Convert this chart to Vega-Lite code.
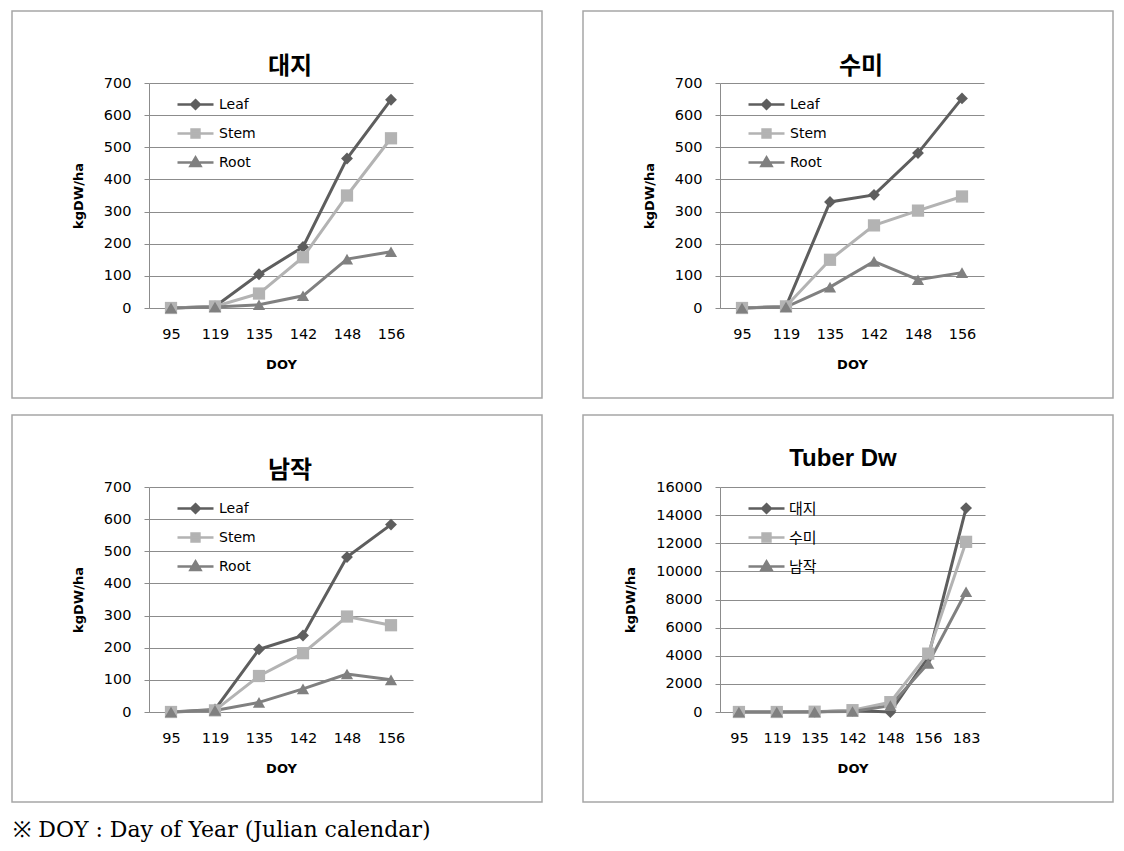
{
  "$schema": "https://vega.github.io/schema/vega-lite/v6.json",
  "background": "white",
  "padding": {"left": 11, "top": 10, "right": 0, "bottom": 4},
  "title": {"text": "※ DOY : Day of Year (Julian calendar)", "orient": "bottom", "anchor": "start", "font": "DejaVu Serif", "fontSize": 22, "fontWeight": "normal", "color": "#000", "offset": 17, "dx": 2},
  "config": {
    "view": {"stroke": "#a6a6a6", "strokeWidth": 1.5},
    "axis": {"labelFont": "DejaVu Sans", "labelFontSize": 14.5, "labelColor": "#000", "titleFont": "DejaVu Sans", "titleFontSize": 13, "titleFontWeight": "bold", "titleColor": "#000", "gridColor": "#8c8c8c", "gridOpacity": 1, "gridWidth": 1, "domainColor": "#8c8c8c", "domainWidth": 1, "tickColor": "#8c8c8c"},
    "legend": {"orient": "none", "legendX": 164, "legendY": 74, "symbolSize": 1296, "symbolStrokeWidth": 2.5, "symbolOpacity": 1, "labelFont": "DejaVu Sans", "labelFontSize": 14, "labelColor": "#000", "labelOffset": 4, "rowPadding": 0, "padding": 0},
    "title": {"color": "#000", "anchor": "middle"}
  },
  "datasets": {
    "d1": [
      {"DOY": 95, "part": "Leaf", "kgDW": 0}, {"DOY": 119, "part": "Leaf", "kgDW": 5}, {"DOY": 135, "part": "Leaf", "kgDW": 105}, {"DOY": 142, "part": "Leaf", "kgDW": 190}, {"DOY": 148, "part": "Leaf", "kgDW": 465}, {"DOY": 156, "part": "Leaf", "kgDW": 648},
      {"DOY": 95, "part": "Stem", "kgDW": 0}, {"DOY": 119, "part": "Stem", "kgDW": 5}, {"DOY": 135, "part": "Stem", "kgDW": 45}, {"DOY": 142, "part": "Stem", "kgDW": 158}, {"DOY": 148, "part": "Stem", "kgDW": 350}, {"DOY": 156, "part": "Stem", "kgDW": 528},
      {"DOY": 95, "part": "Root", "kgDW": 0}, {"DOY": 119, "part": "Root", "kgDW": 3}, {"DOY": 135, "part": "Root", "kgDW": 10}, {"DOY": 142, "part": "Root", "kgDW": 38}, {"DOY": 148, "part": "Root", "kgDW": 152}, {"DOY": 156, "part": "Root", "kgDW": 175}
    ],
    "d2": [
      {"DOY": 95, "part": "Leaf", "kgDW": 0}, {"DOY": 119, "part": "Leaf", "kgDW": 5}, {"DOY": 135, "part": "Leaf", "kgDW": 330}, {"DOY": 142, "part": "Leaf", "kgDW": 352}, {"DOY": 148, "part": "Leaf", "kgDW": 482}, {"DOY": 156, "part": "Leaf", "kgDW": 652},
      {"DOY": 95, "part": "Stem", "kgDW": 0}, {"DOY": 119, "part": "Stem", "kgDW": 5}, {"DOY": 135, "part": "Stem", "kgDW": 150}, {"DOY": 142, "part": "Stem", "kgDW": 257}, {"DOY": 148, "part": "Stem", "kgDW": 303}, {"DOY": 156, "part": "Stem", "kgDW": 347},
      {"DOY": 95, "part": "Root", "kgDW": 0}, {"DOY": 119, "part": "Root", "kgDW": 3}, {"DOY": 135, "part": "Root", "kgDW": 65}, {"DOY": 142, "part": "Root", "kgDW": 145}, {"DOY": 148, "part": "Root", "kgDW": 88}, {"DOY": 156, "part": "Root", "kgDW": 110}
    ],
    "d3": [
      {"DOY": 95, "part": "Leaf", "kgDW": 0}, {"DOY": 119, "part": "Leaf", "kgDW": 8}, {"DOY": 135, "part": "Leaf", "kgDW": 195}, {"DOY": 142, "part": "Leaf", "kgDW": 238}, {"DOY": 148, "part": "Leaf", "kgDW": 482}, {"DOY": 156, "part": "Leaf", "kgDW": 583},
      {"DOY": 95, "part": "Stem", "kgDW": 0}, {"DOY": 119, "part": "Stem", "kgDW": 5}, {"DOY": 135, "part": "Stem", "kgDW": 112}, {"DOY": 142, "part": "Stem", "kgDW": 183}, {"DOY": 148, "part": "Stem", "kgDW": 297}, {"DOY": 156, "part": "Stem", "kgDW": 270},
      {"DOY": 95, "part": "Root", "kgDW": 0}, {"DOY": 119, "part": "Root", "kgDW": 5}, {"DOY": 135, "part": "Root", "kgDW": 30}, {"DOY": 142, "part": "Root", "kgDW": 72}, {"DOY": 148, "part": "Root", "kgDW": 118}, {"DOY": 156, "part": "Root", "kgDW": 100}
    ],
    "d4": [
      {"DOY": 95, "part": "대지", "kgDW": 0}, {"DOY": 119, "part": "대지", "kgDW": 0}, {"DOY": 135, "part": "대지", "kgDW": 0}, {"DOY": 142, "part": "대지", "kgDW": 100}, {"DOY": 148, "part": "대지", "kgDW": 0}, {"DOY": 156, "part": "대지", "kgDW": 3900}, {"DOY": 183, "part": "대지", "kgDW": 14500},
      {"DOY": 95, "part": "수미", "kgDW": 0}, {"DOY": 119, "part": "수미", "kgDW": 0}, {"DOY": 135, "part": "수미", "kgDW": 20}, {"DOY": 142, "part": "수미", "kgDW": 130}, {"DOY": 148, "part": "수미", "kgDW": 700}, {"DOY": 156, "part": "수미", "kgDW": 4150}, {"DOY": 183, "part": "수미", "kgDW": 12100},
      {"DOY": 95, "part": "남작", "kgDW": 0}, {"DOY": 119, "part": "남작", "kgDW": 0}, {"DOY": 135, "part": "남작", "kgDW": 10}, {"DOY": 142, "part": "남작", "kgDW": 40}, {"DOY": 148, "part": "남작", "kgDW": 450}, {"DOY": 156, "part": "남작", "kgDW": 3450}, {"DOY": 183, "part": "남작", "kgDW": 8550}
    ]
  },
  "columns": 2,
  "spacing": {"row": 15, "column": 39},
  "resolve": {"scale": {"x": "independent", "y": "independent", "color": "independent"}},
  "concat": [
    {
      "width": 530, "height": 387,
      "title": {"text": "대지", "font": "Noto Sans CJK KR", "fontSize": 24, "fontWeight": "bold", "baseline": "middle", "offset": -80, "dx": 13},
      "data": {"name": "d1"},
      "encoding": {
        "x": {"field": "DOY", "type": "ordinal", "scale": {"type": "point", "range": [137, 401], "padding": 0.5}, "axis": {"title": "DOY", "offset": -90, "labelAngle": 0, "ticks": false, "tickSize": 0, "labelPadding": 19, "titlePadding": 18}},
        "y": {"field": "kgDW", "type": "quantitative", "scale": {"domain": [0, 700], "range": [297, 72], "nice": false}, "axis": {"title": "kgDW/ha", "offset": -137, "values": [0, 100, 200, 300, 400, 500, 600, 700], "tickSize": 5, "labelPadding": 13, "titlePadding": 18, "grid": true}}
      },
      "layer": [
        {"mark": {"type": "line", "strokeWidth": 3}, "encoding": {"color": {"field": "part", "type": "nominal", "sort": ["Leaf", "Stem", "Root"], "scale": {"domain": ["Leaf", "Stem", "Root"], "range": ["#5e5e5e", "#b3b3b3", "#808080"]},
          "legend": {"title": null,
            "symbolType": {"expr": "datum.value === 'Leaf' ? 'M-1,0H1M0,-0.24L0.24,0L0,0.24L-0.24,0Z' : datum.value === 'Stem' ? 'M-1,0H1M-0.22,-0.22H0.22V0.22H-0.22Z' : 'M-1,0H1M0,-0.28L0.28,0.2H-0.28Z'"},
            "symbolFillColor": {"expr": "datum.value === 'Leaf' ? '#5e5e5e' : datum.value === 'Stem' ? '#b3b3b3' : '#808080'"}}}}},
        {"transform": [{"filter": "datum.part === 'Leaf'"}], "mark": {"type": "point", "filled": true, "opacity": 1, "size": 140, "shape": "diamond", "color": "#5e5e5e"}},
        {"transform": [{"filter": "datum.part === 'Stem'"}], "mark": {"type": "point", "filled": true, "opacity": 1, "size": 150, "shape": "square", "color": "#b3b3b3"}},
        {"transform": [{"filter": "datum.part === 'Root'"}], "mark": {"type": "point", "filled": true, "opacity": 1, "size": 150, "shape": "triangle-up", "color": "#808080"}}
      ]
    },
    {
      "width": 530, "height": 387,
      "title": {"text": "수미", "font": "Noto Sans CJK KR", "fontSize": 24, "fontWeight": "bold", "baseline": "middle", "offset": -80, "dx": 13},
      "data": {"name": "d2"},
      "encoding": {
        "x": {"field": "DOY", "type": "ordinal", "scale": {"type": "point", "range": [137, 401], "padding": 0.5}, "axis": {"title": "DOY", "offset": -90, "labelAngle": 0, "ticks": false, "tickSize": 0, "labelPadding": 19, "titlePadding": 18}},
        "y": {"field": "kgDW", "type": "quantitative", "scale": {"domain": [0, 700], "range": [297, 72], "nice": false}, "axis": {"title": "kgDW/ha", "offset": -137, "values": [0, 100, 200, 300, 400, 500, 600, 700], "tickSize": 5, "labelPadding": 13, "titlePadding": 18, "grid": true}}
      },
      "layer": [
        {"mark": {"type": "line", "strokeWidth": 3}, "encoding": {"color": {"field": "part", "type": "nominal", "sort": ["Leaf", "Stem", "Root"], "scale": {"domain": ["Leaf", "Stem", "Root"], "range": ["#5e5e5e", "#b3b3b3", "#808080"]},
          "legend": {"title": null,
            "symbolType": {"expr": "datum.value === 'Leaf' ? 'M-1,0H1M0,-0.24L0.24,0L0,0.24L-0.24,0Z' : datum.value === 'Stem' ? 'M-1,0H1M-0.22,-0.22H0.22V0.22H-0.22Z' : 'M-1,0H1M0,-0.28L0.28,0.2H-0.28Z'"},
            "symbolFillColor": {"expr": "datum.value === 'Leaf' ? '#5e5e5e' : datum.value === 'Stem' ? '#b3b3b3' : '#808080'"}}}}},
        {"transform": [{"filter": "datum.part === 'Leaf'"}], "mark": {"type": "point", "filled": true, "opacity": 1, "size": 140, "shape": "diamond", "color": "#5e5e5e"}},
        {"transform": [{"filter": "datum.part === 'Stem'"}], "mark": {"type": "point", "filled": true, "opacity": 1, "size": 150, "shape": "square", "color": "#b3b3b3"}},
        {"transform": [{"filter": "datum.part === 'Root'"}], "mark": {"type": "point", "filled": true, "opacity": 1, "size": 150, "shape": "triangle-up", "color": "#808080"}}
      ]
    },
    {
      "width": 530, "height": 387,
      "title": {"text": "남작", "font": "Noto Sans CJK KR", "fontSize": 24, "fontWeight": "bold", "baseline": "middle", "offset": -80, "dx": 13},
      "data": {"name": "d3"},
      "encoding": {
        "x": {"field": "DOY", "type": "ordinal", "scale": {"type": "point", "range": [137, 401], "padding": 0.5}, "axis": {"title": "DOY", "offset": -90, "labelAngle": 0, "ticks": false, "tickSize": 0, "labelPadding": 19, "titlePadding": 18}},
        "y": {"field": "kgDW", "type": "quantitative", "scale": {"domain": [0, 700], "range": [297, 72], "nice": false}, "axis": {"title": "kgDW/ha", "offset": -137, "values": [0, 100, 200, 300, 400, 500, 600, 700], "tickSize": 5, "labelPadding": 13, "titlePadding": 18, "grid": true}}
      },
      "layer": [
        {"mark": {"type": "line", "strokeWidth": 3}, "encoding": {"color": {"field": "part", "type": "nominal", "sort": ["Leaf", "Stem", "Root"], "scale": {"domain": ["Leaf", "Stem", "Root"], "range": ["#5e5e5e", "#b3b3b3", "#808080"]},
          "legend": {"title": null,
            "symbolType": {"expr": "datum.value === 'Leaf' ? 'M-1,0H1M0,-0.24L0.24,0L0,0.24L-0.24,0Z' : datum.value === 'Stem' ? 'M-1,0H1M-0.22,-0.22H0.22V0.22H-0.22Z' : 'M-1,0H1M0,-0.28L0.28,0.2H-0.28Z'"},
            "symbolFillColor": {"expr": "datum.value === 'Leaf' ? '#5e5e5e' : datum.value === 'Stem' ? '#b3b3b3' : '#808080'"}}}}},
        {"transform": [{"filter": "datum.part === 'Leaf'"}], "mark": {"type": "point", "filled": true, "opacity": 1, "size": 140, "shape": "diamond", "color": "#5e5e5e"}},
        {"transform": [{"filter": "datum.part === 'Stem'"}], "mark": {"type": "point", "filled": true, "opacity": 1, "size": 150, "shape": "square", "color": "#b3b3b3"}},
        {"transform": [{"filter": "datum.part === 'Root'"}], "mark": {"type": "point", "filled": true, "opacity": 1, "size": 150, "shape": "triangle-up", "color": "#808080"}}
      ]
    },
    {
      "width": 530, "height": 387,
      "title": {"text": "Tuber Dw", "font": "Liberation Sans", "fontSize": 24, "fontWeight": "bold", "baseline": "middle", "offset": -68, "dx": -5},
      "data": {"name": "d4"},
      "encoding": {
        "x": {"field": "DOY", "type": "ordinal", "scale": {"type": "point", "range": [137, 402], "padding": 0.5}, "axis": {"title": "DOY", "offset": -90, "labelAngle": 0, "ticks": false, "tickSize": 0, "labelPadding": 19, "titlePadding": 18}},
        "y": {"field": "kgDW", "type": "quantitative", "scale": {"domain": [0, 16000], "range": [297, 72], "nice": false}, "axis": {"title": "kgDW/ha", "offset": -137, "values": [0, 2000, 4000, 6000, 8000, 10000, 12000, 14000, 16000], "format": "d", "tickSize": 5, "labelPadding": 13, "titlePadding": 18, "grid": true}}
      },
      "layer": [
        {"mark": {"type": "line", "strokeWidth": 3}, "encoding": {"color": {"field": "part", "type": "nominal", "sort": ["대지", "수미", "남작"], "scale": {"domain": ["대지", "수미", "남작"], "range": ["#5e5e5e", "#b3b3b3", "#808080"]},
          "legend": {"title": null, "labelFont": "Noto Sans CJK KR", "labelFontSize": 15, "labelOffset": 3,
            "symbolType": {"expr": "datum.value === '대지' ? 'M-1,0H1M0,-0.24L0.24,0L0,0.24L-0.24,0Z' : datum.value === '수미' ? 'M-1,0H1M-0.22,-0.22H0.22V0.22H-0.22Z' : 'M-1,0H1M0,-0.28L0.28,0.2H-0.28Z'"},
            "symbolFillColor": {"expr": "datum.value === '대지' ? '#5e5e5e' : datum.value === '수미' ? '#b3b3b3' : '#808080'"}}}}},
        {"transform": [{"filter": "datum.part === '대지'"}], "mark": {"type": "point", "filled": true, "opacity": 1, "size": 140, "shape": "diamond", "color": "#5e5e5e"}},
        {"transform": [{"filter": "datum.part === '수미'"}], "mark": {"type": "point", "filled": true, "opacity": 1, "size": 150, "shape": "square", "color": "#b3b3b3"}},
        {"transform": [{"filter": "datum.part === '남작'"}], "mark": {"type": "point", "filled": true, "opacity": 1, "size": 150, "shape": "triangle-up", "color": "#808080"}}
      ]
    }
  ]
}
